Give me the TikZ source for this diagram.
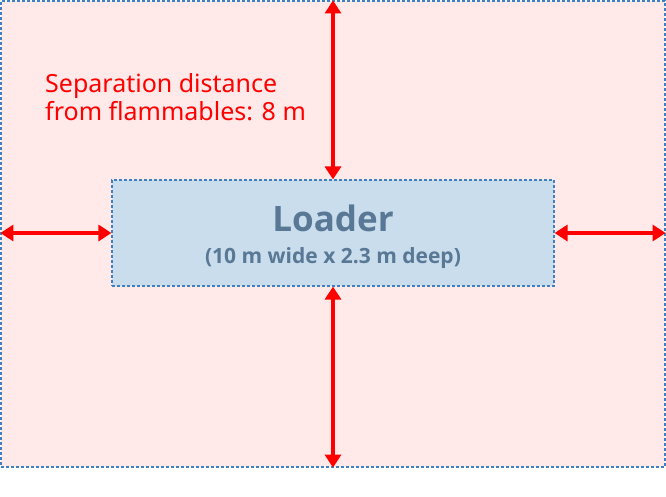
\documentclass[tikz,border=0pt]{standalone}
\usepackage{fontspec}
\setmainfont{Noto Sans}
\newfontfamily\labelfont{Open Sans}
\usetikzlibrary{arrows.meta}
\definecolor{zonepink}{HTML}{FFE9E9}
\definecolor{boxblue}{HTML}{CADDEC}
\definecolor{edgeblue}{HTML}{3F80C2}
\definecolor{textslate}{HTML}{587896}
\tikzset{
  zone/.style={draw=edgeblue, fill=zonepink, dash pattern=on 3pt off 2pt, line width=1.2pt, inner sep=0pt},
  loaderbox/.style={draw=edgeblue, fill=boxblue, dash pattern=on 3pt off 2pt, line width=1.2pt, inner sep=0pt},
  gap/.style={{Triangle[width=16pt,length=13pt]}-{Triangle[width=16pt,length=13pt]}, red, line width=4.5pt}
}
\begin{document}
\begin{tikzpicture}[x=1pt, y=-1pt]
	\useasboundingbox[fill=white] (0,0) rectangle (666,496);
	\node[zone, minimum width=664pt, minimum height=466pt] (area) at (333,234) {};
	\node[loaderbox, minimum width=442pt, minimum height=106pt] (loader) at (333,233) {};
	\node[textslate, font=\labelfont\bfseries\fontsize{35}{40}\selectfont] (title) at (333,218) {Loader};
	\node[textslate, font=\labelfont\bfseries\fontsize{21}{25}\selectfont] (size) at (333,258) {(10 m wide x 2.3 m deep)};
	\node[red, anchor=north west, align=left, inner sep=0pt, font=\fontsize{25}{28}\selectfont] (note) at (45,73) {Separation distance\\from flammables: 8 m};
	% clearance arrows
	\draw[gap] (loader.north) -- (loader.north |- area.north);
	\draw[gap] (loader.south) -- (loader.south |- area.south);
	\draw[gap] (loader.west) -- (loader.west -| area.west);
	\draw[gap] (loader.east) -- (loader.east -| area.east);
\end{tikzpicture}
\end{document}
